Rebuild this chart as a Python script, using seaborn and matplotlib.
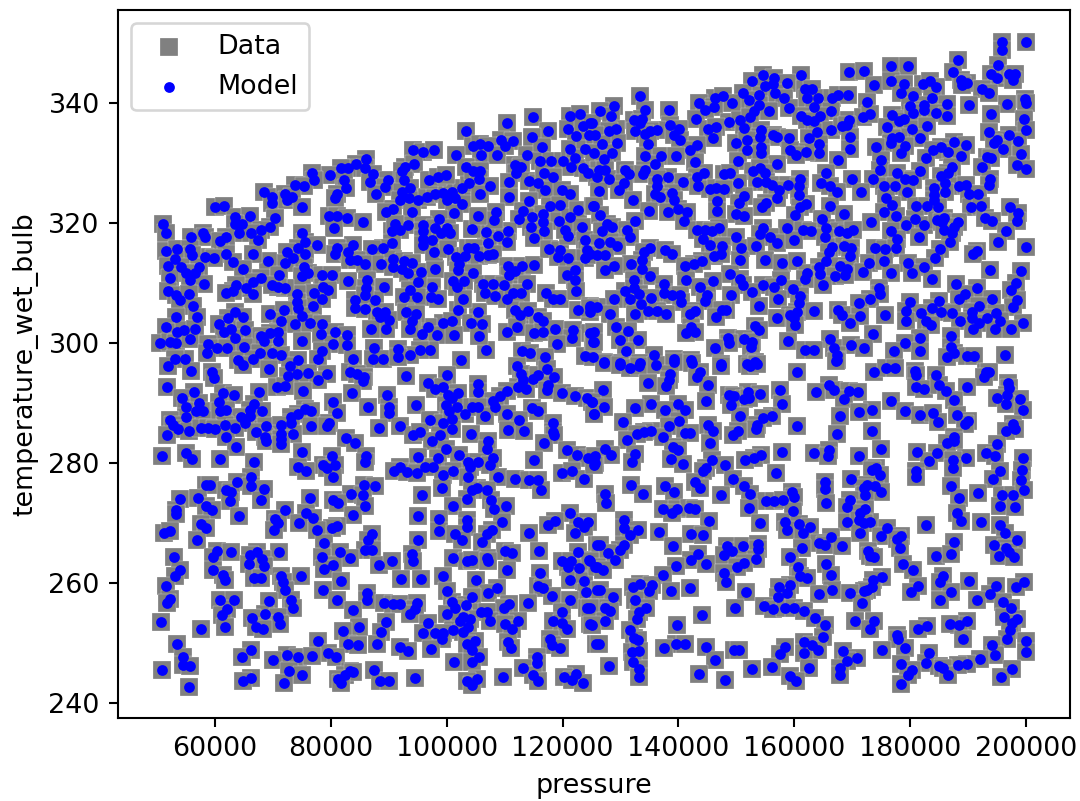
import pandas as pd
import matplotlib
matplotlib.use("Agg")
import matplotlib.pyplot as plt
import seaborn as sns

plt.rcParams['font.size'] = 10.3

# (pressure, temperature_wet_bulb), one list per region
upper_left = [
(114850,337.6),(110470,336.6),(103380,335.3),(117550,335.4),(114670,334.4),(121300,337.9),(123030,338.1),(120890,335.7),(122390,334.5),(123600,336.2),
(124750,336.6),(124580,334.6),(109320,333.8),(111500,333.7),(110070,332.8),(104600,332.8),(105750,333.1),(107190,332.9),(101600,331.3),(105870,331.3),
(108630,331.3),(113810,331.4),(116520,332.6),(116110,330.3),(118010,330.4),(120030,330.4),(121300,332.4),(123890,332.4),(122160,330.8),(121470,329.3),
(94110,332.2),(95900,331.8),(97850,332.2),(86050,330.7),(84260,329.9),(82990,329.1),(81730,329.1),(79830,328),(76660,328.3),(77060,327.1),
(73780,326.3),(75330,326.1),(68480,325.1),(69860,324.4),(69750,323.3),(72050,324.9),(72340,323.9),(73320,324.3),(74990,322.6),(59950,322.7),
(61570,322.9),(85870,329.1),(87310,328.1),(86740,326.8),(82190,327.1),(82650,325.8),(80980,324.9),(80690,324.2),(89900,327.2),(89330,326),
(87720,324.9),(92790,329.4),(94400,329.9),(92320,328.6),(92670,327.2),(93650,325.8),(92210,325.2),(91920,323.8),(93530,324.1),(95090,323.9),
(96530,324.4),(97970,324.9),(99410,325),(100850,325.1),(102580,325.8),(103850,326.7),(99990,323.8),(101430,324.1),(102580,323.1),(96930,327.2),
(98540,327.6),(99810,328),(103270,329.3),(104600,328.7),(105750,328.6),(105570,327.3),(107530,326.2),(105750,324.9),(111790,329.7),(112770,329.4),
(111960,328.3),(110760,326.9),(110810,324.4),(114210,327),(115710,326.7),(116860,328.3),(118300,327.7),(116980,325.5),(119860,325.5),(121300,324.8),
(123600,329.1),(124460,328.3),(114210,323.7),(113230,322),(112540,320.6),(114790,321),(114560,319.4),(117900,322.9),(119570,323),(116690,321.5),
(116570,320.1),(119400,320.4),(121300,321),(122740,322.2),(125330,322.9),(116800,318.6),(115080,317.5),(110640,318.6),(108910,317.8),(110350,316.9),
(106780,318.5),(107070,316.7),(104310,319),(108510,321.9),(108170,320.5),(105340,321.2),(101250,321.6),(98720,320.7),(94050,321.9),(90770,322.3),
(89500,321.9),(79650,321.2),(81040,321.1),(82710,320.8),(85530,320.1),(80460,319.1),(75050,318.4),(63410,321),(64680,319.9),(66000,321.2),
(63520,319.9),(64160,318.4),(70320,320.8),(69460,319.4),(68020,318.8),(66290,318.4),(67440,317.2),(51030,319.8),(51600,318.4),(55860,317.6),
(57940,318.4),(58340,317.7),(61970,317.7),(60820,317),(93360,319.7),(91920,318.8),(90480,318.6),(91060,319.9),(95840,319.7),(95840,318.6),
(95950,317.4),(97390,317.1),(95950,316.3),(97970,319.1),(99990,319.1),(99010,318.4),(100560,318.4),(90480,316.6),(89040,315.8),(87140,315.7),
(83860,316.4),(80980,315.9),(80690,314.9),(82990,315.2),(83280,313.9),(84430,313.8),(85870,313.1),(88580,313.1),(75510,316.8),(74240,315.8),
(72450,315.2),(77690,316.3),(75510,314.9),(73490,314.2),(72160,313.4),(69170,313.7),(66580,314.9),(61970,314.9),(63120,313.5),(58340,314.3),
(59780,314.1),(51490,315.4),(53390,315.7),(55630,315.7),(56040,314.7),(53040,314),(51890,312.8),(54190,312.7),(57240,312.6),(56500,311.6),
(55060,311.6),(52180,310.8),(55630,310.5),(58110,309.8),(64850,312.3),(67900,310.9),(66580,310.2),(71070,311.4),(75390,312.6),(76080,311.6),
(74930,311.1),(78500,311.3),(80110,311.3),(83000,310.3),(86160,310.5),(85990,309.1),(89160,309.4),(90770,314),(90650,312.7),(92610,313.6),
(93940,313.3),(92210,312.4),(93250,311.6),(95550,311.9),(97970,312.4),(97740,315.1),(100270,315.7),(101600,314.4),(103150,314.5),(103730,315.8),
(104710,315.9),(105570,314.5),(107190,314.7),(108050,314.9),(102120,313.2),(101890,312.2),(104590,311.7),(101140,310.3),(102980,310.4),(101710,309.4),
(110640,312.9),(112950,312.8),(115130,313),(110760,311.4),(111790,312),(113810,309.8),(106320,309.9),(108050,309.8),(109890,309.7),(106610,308.3),
(108340,307.9),(110350,307.4),(111500,308.4),(112770,308.3),(117730,315.6),(119570,315.5),(119270,314.4),(120890,314.2),(121010,317.9),(120430,318.8),
(123310,319.4),(123890,317.2),(124180,315.5),(123890,314.1),(122160,312.2),(120720,311.3),(122160,310.5),(117150,308.3),(118420,307.4),(119570,307.4),
(122270,308.7),(111790,305.5),(112650,304.7),(114100,305.3),(115710,304.4),(116690,303.6),(122740,305.5),(124750,306.2),(124750,305.1),(110470,301.8),
(112190,302.6),(115130,301.7),(116690,301.9),(118700,302.3),(121870,302.1),(124750,301.6),(121590,300.8),(125330,300.2),(118990,299.8),(113060,298.7),
(114390,298.4),(116980,297.7),(123890,297.9),(125330,297.7),(106840,298.8),(102460,297.2),(101890,305.5),(105460,305.2),(104190,303.3),(106030,303.1),
(105570,301.1),(99410,303.3),(100850,303.6),(96820,302.7),(95780,301.5),(98260,301.3),(101310,301.4),(102750,307.3),(97390,309.4),(97280,307.7),
(98540,307.3),(95090,310.1),(93650,308.8),(92610,307.6),(94800,307.6),(87600,307.2),(84150,307.2),(84150,305.9),(85870,305.7),(85870,308),
(87890,305.2),(89330,305.2),(88470,304.4),(90020,303.8),(92900,305.1),(94630,304.9),(93940,303.6),(93650,302.4),(89500,302.3),(86850,302.3),
(78670,309.4),(79540,308.8),(77060,308.3),(78390,307.3),(76950,306.2),(74070,308.2),(74180,306.9),(74350,305.8),(74930,304.5),(72050,309.1),
(70900,309.4),(69860,309.7),(69460,304.9),(71930,305.5),(71360,303.7),(73780,303.2),(76480,303.3),(78390,303.2),(78210,301.5),(80690,301.9),
(82710,301.4),(66580,308.2),(65430,309.1),(63700,309.7),(63120,308.7),(61970,308.3),(51890,308.6),(53330,308),(53900,307.2),(55460,308.1),
(56210,306.2),(53330,304.4),(56960,304.3),(51600,302.6),(53500,301.9),(54600,302.2),(56500,302.3),(63410,305.1),(62260,304.1),(64850,304.3),
(60700,303.2),(62830,302.4),(65140,302.1),(61570,301.9),(70900,301.9),(69460,301.6),(68020,301.2),(70900,300.4),(68420,300.4),(63410,300.8),
(65020,299.3),(50560,300),(52290,300.2),(53330,300),(55750,300.6),(58800,299.8),(60410,299.1),(62140,299.1),(58690,298.3),(67730,298.4),
(69750,298.3),(71470,298),(74990,300.3),(80400,299.8),(82710,299.7),(78500,298.7),(87430,299.1),(91520,299),(97110,298.9),(95380,298.9),
(93650,298),(87310,297.4),(89040,297.3),(91520,297.6),(83860,297.4),(77810,297.4),(54770,297.4),(53040,297.3),(63990,297.2),(66580,297.3),
(74350,297.2),
]

upper_right = [
(195900,350.2),(200000,350.2),(195850,348.8),(188180,347.2),(195200,346.3),(169530,345.2),(172000,345.4),(176780,346.2),(179550,346.2),(187440,345.1),
(193890,344.9),(194930,344.2),(197060,344.9),(198040,344.9),(197810,343.9),(188710,343.8),(189740,343.4),(189000,343),(161230,344.6),(154550,344.6),
(156450,344.2),(152650,343.6),(155010,342.8),(156340,343.2),(158700,343.4),(173730,343),(176780,343.7),(178910,343.1),(178340,341.6),(182200,343.1),
(183410,343.7),(184390,342.6),(192450,342.4),(193600,341.7),(161920,342.4),(163070,342.4),(162210,340.8),(164050,340.9),(156740,341.7),(158180,340.9),
(153970,341.3),(151150,341.6),(152130,340.5),(133290,341.2),(166530,340.9),(167510,341.3),(169290,341.3),(180530,341.1),(183690,340.8),(199820,340.6),
(200000,340),(146260,340.9),(147690,341.1),(143490,340),(149250,340),(172580,340.1),(180060,339.5),(182370,339.7),(186280,339.9),(190090,339.6),
(196650,339.9),(128800,339.5),(126500,338.7),(138420,338.9),(134160,338.9),(146080,339.4),(144640,338.8),(153860,339.6),(153000,338.6),(155590,338.7),
(159160,339.1),(163480,339.3),(166410,338.7),(182370,338.8),(184390,338.4),(186400,337.9),(193950,338.2),(128340,337.8),(132260,337.1),(133700,337.4),
(142970,337.3),(148680,336.9),(150690,337.2),(152420,337.6),(161170,337.9),(162210,337.1),(164510,337.8),(163480,337),(169410,337.1),(171880,337.7),
(173040,338.2),(176900,338),(178910,337.4),(178050,337),(180530,338.3),(199650,337.3),(125060,336.7),(138590,336.4),(133410,336.6),(140030,335.6),
(132430,335.3),(129260,335.6),(127940,335.3),(136290,335.5),(135140,335.3),(134270,334.8),(145040,335.6),(146540,336),(145910,334.1),(151260,335.9),
(154260,335.5),(154150,334.4),(156330,334.6),(157030,334.4),(159160,334.2),(163940,335.2),(162610,334.1),(166410,335.5),(168260,336.2),(169120,336.4),
(169580,334.3),(175980,336),(180240,335.7),(182830,336.2),(181620,334.1),(193600,335.1),(197060,334.7),(199940,335.5),(139170,334.7),(140210,333.8),
(125630,334.7),(129380,333.4),(126790,333.2),(134740,333.2),(143200,333),(142050,332.2),(149940,333.4),(151840,333.8),(178050,334.4),(176900,334.1),
(176780,333.3),(187550,333.5),(189570,333),(194930,333.9),(194470,333.4),(198610,333.6),(185250,332.7),(151840,332.2),(154260,332.6),(154260,331.6),
(164220,333.1),(164340,331.7),(162100,331.9),(159330,332.2),(160370,331.3),(169580,332.4),(174130,332.7),(179030,332.8),(178340,331.7),(186520,331.8),
(183980,332.1),(182660,330.9),(188710,331.2),(196080,332.4),(199070,331.5),(193200,331),(193890,330.8),(128510,331.6),(125350,331.7),(127070,330.7),
(134160,331.2),(136980,331.2),(136000,329.8),(139630,331.2),(142860,330.2),(150290,330.4),(157080,329.9),(167510,330.5),(174940,330.5),(192330,329.4),
(198500,329.7),(200000,329),(174770,328.8),(181790,328.6),(187270,329.4),(186520,328.4),(185250,327.9),(177760,328.3),(179200,327.4),(180530,327.1),
(126210,328.8),(127360,328.9),(125920,327.7),(127940,327.3),(130820,328.9),(131390,328.2),(134270,328.9),(133870,328.2),(138190,327.7),(136290,327.3),
(144350,328.3),(143200,327.7),(147810,328.2),(148960,328.3),(152880,328.7),(154150,329.1),(155010,328.3),(153570,326.9),(160940,327.4),(165550,328.3),
(164690,326.7),(169990,327.4),(173610,327.4),(193720,327.4),(193600,326.3),(186000,326.7),(188420,326.1),(189570,326.4),(184100,325.8),(130530,326.7),
(140720,326.9),(143320,326.2),(150290,326.6),(155180,326.9),(156160,326.3),(158930,326.3),(160770,326.1),(166240,326.1),(175570,326.2),(177470,326.2),
(136290,326.1),(129660,325.5),(126210,325.3),(145510,325.6),(146540,325.9),(147810,325.7),(138880,325),(136000,324.8),(136870,324.4),(157310,325.5),
(160770,324.6),(167390,325.1),(171600,325.2),(179490,325.2),(184100,324.7),(186000,325.2),(190140,324.8),(191700,324.9),(151260,324.5),(157030,324.1),
(132080,323.9),(139170,323.8),(146660,323.7),(150400,323.4),(175920,324.1),(176900,323),(184100,323.8),(125350,322.8),(139860,322.4),(138190,321.9),
(134850,322),(146660,322),(155130,323.4),(154490,322.6),(162090,323.2),(160940,322.7),(166240,322.9),(180930,322.8),(182950,322.8),(184850,322.7),
(190430,322.7),(192280,322.8),(197170,322.7),(141470,321.9),(126380,321.4),(149940,321.5),(151380,321.2),(160190,321.3),(168660,321.5),(175460,321.8),
(177590,321.1),(198670,321.7),(132430,320.4),(140900,320.4),(164800,320.7),(173210,320.2),(180760,320.6),(179370,319.6),(182370,319.6),(184680,320.5),
(185820,320.8),(188250,320.2),(192910,320.9),(194180,320.4),(198380,320.4),(127650,319.9),(128510,319.3),(126790,318.6),(131100,318.9),(143200,318.8),
(144640,318.8),(146950,319.2),(145790,318.6),(154610,319.1),(154150,318.2),(158750,319.1),(161460,318.8),(162900,318.7),(165550,319.1),(167680,318.6),
(169120,318.4),(170160,318.8),(176730,318.6),(185540,320.2),(185820,318.8),(187550,319.4),(187150,318.4),(196540,318.7),(131570,317.6),(149940,317.7),
(144240,317.3),(155870,317.7),(157030,316.7),(159910,317.2),(165380,317.6),(177650,317.3),(181510,317.7),(186860,316.9),(195160,316.9),(126210,316.6),
(128230,316.8),(129380,316.2),(145510,316.4),(147520,316.2),(135140,315.9),(137730,315.5),(138880,314.9),(150810,315.9),(153330,316.2),(166530,316),
(168550,316.2),(169810,315.9),(173850,315.8),(175740,315.7),(177590,315.8),(185190,315.7),(200000,316),(191590,315.4),(190890,314.8),(124770,314.8),
(125920,314.6),(127360,314.6),(133990,315.2),(133700,313.8),(165950,315.2),(169700,314.5),(146080,314.5),(147350,314.8),(144070,313.6),(142630,313.1),
(141190,312.9),(150690,313.9),(155010,313.9),(157890,313.4),(160480,313.7),(165550,313.6),(172870,313.4),(175570,313.7),(179600,313.4),(184210,314.1),
(182370,312.6),(131800,313.2),(128920,312.9),(127360,312.2),(133700,312.3),(164230,312.7),(167970,312.9),(169120,312.4),(193720,312.2),(199070,312),
(171880,311.9),(176780,311.6),(180350,311.7),(148960,311.5),(162210,311.6),(164400,311.5),(167100,311.2),(168830,311.3),(135020,311.1),(150690,310.6),
(141300,310.5),(145910,310.3),(157720,310.5),(161810,310.7),(132260,310.5),(183690,310.7),(187850,309.8),(198210,310),(151150,309.7),(154550,309.7),
(137560,309.8),(164970,309.6),(191470,309.2),(197460,308.8),(130820,308.7),(132260,309.1),(143780,309.3),(156450,309.3),(159790,309),(174590,309.1),
(152650,308.5),(137440,308.4),(133120,308.1),(138880,308),(140320,308),(144930,308),(149130,308),(174770,308.1),(189390,308.1),(131570,307.4),
(135310,307.5),(128800,307.3),(173040,307.4),(194180,307.3),(188420,307.3),(161060,307.8),(157140,307.3),(144640,307),(140440,306.8),(179950,306.9),
(184960,307),(198380,307.1),(160770,306.6),(171140,306.7),(133520,306.5),(191870,306.2),(153860,306.2),(197810,306),(125920,306),(124770,305.8),
(183810,305.9),(148270,305.5),(134740,305.3),(136290,305.3),(142800,305.3),(147520,305.5),(160480,305.2),(163360,305.4),(167510,305.5),(179370,305.3),
(185250,305.1),(181910,305),(187150,305),(190720,305.1),(194750,305),(128230,304.8),(132430,304.9),(137900,304.8),(142050,304.8),(168260,304.6),
(171300,304.5),(175740,304.6),(146540,304.4),(159330,304.7),(157030,304.2),(159910,304.1),(190720,304.1),(193320,304.1),(195500,303.6),(179370,303.7),
(188590,303.7),(182660,303.6),(199540,303.3),(169580,303.4),(191870,303.3),(183520,303),(160190,303),(153170,302.9),(129200,302.7),(142220,302.7),
(190890,302.3),(194640,302.3),(197350,302.4),(142910,301.9),(131280,302),(125350,301.9),(153860,302.2),(141300,301.6),(173560,301.5),(186990,301.2),
(148500,300.9),(151260,300.6),(181620,300.9),(166130,300.6),(129840,300.5),(133000,300.5),(125350,300.2),(158930,300.3),(152700,300.2),(148670,300),
(179090,300),(166820,299.1),(169810,299.7),(146260,299.2),(152530,299.3),(172000,299.1),(161920,298.8),(163360,298.8),(130880,298.7),(177300,298.7),
(181620,298.6),(186990,299.3),(187550,298.4),(196370,298),(189860,297.9),(191010,297.9),(186280,297.6),(167390,298),(167390,297.2),(135710,298),
(139280,297.3),(142220,297.2),(127070,296.9),(129840,296.6),(133300,296.6),(147410,296.5),(153280,296.9),(151840,296.5),
]

lower_left = [
(51890,296.1),(55920,295.3),(59550,295.2),(59780,294.1),(64850,296.3),(69340,295.6),(72910,296.2),(72630,294.5),(74070,294.8),(76080,295),
(79360,294.8),(77810,293.8),(83280,295.2),(84430,294.8),(85760,294.4),(85470,293.6),(92960,294.5),(99990,294.7),(96820,293.4),(97970,292.3),
(99410,292.6),(51770,292.6),(56380,291.8),(61390,291.7),(63240,291.3),(67670,291.9),(70780,292.6),(72050,292.9),(75220,292),(83570,291.6),
(89730,291.4),(100270,291.3),(102000,291.6),(100850,290.8),(105460,293.1),(105340,291.8),(112080,296.1),(112830,294.9),(113230,293.8),(114960,294),
(115830,294.7),(117270,295.6),(118530,294.4),(117550,293),(117270,292.1),(112370,292.7),(113640,292.3),(110470,292),(109200,291.1),(108050,290.4),
(108340,289.4),(119860,291.7),(122160,291.1),(124180,290.8),(125040,290.1),(54250,290.8),(55060,289.3),(57240,290),(56790,288.7),(57940,288.6),
(60650,290.1),(60820,288.7),(61970,288.9),(66690,289.9),(66120,288.8),(66000,287.9),(68130,288.6),(80290,290.1),(80980,288.4),(86330,289.4),
(89960,289.4),(90020,288.3),(94630,289.6),(99810,289.7),(101710,289.3),(100390,288.6),(103150,288.1),(104310,289.4),(105340,289.3),(106610,287.9),
(110350,288.1),(114670,289.1),(115710,288.7),(125450,288.1),(75510,289),(76490,288.7),(74350,288.2),(73090,287.7),(73200,286.7),(54940,287.6),
(52180,287.1),(52750,286.3),(53620,285.7),(64560,287.7),(65250,286.6),(97110,287.2),(99290,286.6),(100850,287.3),(100850,285.7),(112540,287.2),
(118420,286.7),(61800,286.3),(63410,285.9),(68770,286.2),(71470,286.3),(76490,286.2),(79650,286.6),(79250,286.1),(88350,285.9),(91860,286.2),
(55460,285.4),(57650,285.9),(58800,285.8),(60070,285.7),(67040,285.1),(71360,284.8),(73490,284.8),(110530,285.5),(113290,285.3),(118420,285.2),
(118530,284.7),(51770,284.6),(61850,284.4),(68590,284.4),(68880,283.7),(71360,284),(71470,283.1),(82590,284.2),(84150,283.3),(94110,284.7),
(95380,285.1),(98830,284.7),(97390,283.6),(104190,284.8),(107190,283.6),(63580,282.6),(99870,282.4),(106890,282.3),(116860,283.3),(50850,281.1),
(54940,281.7),(56040,280.6),(60820,280.6),(75050,281.9),(80110,281.1),(85990,281.1),(85870,280.1),(94970,281),(98430,280.9),(102120,281.3),
(108050,280.9),(115130,280.5),(120840,282.1),(122450,281.4),(124460,280.8),(125620,280),(66750,280.2),(103730,280.2),(105460,280.1),(104020,279.3),
(107470,279.6),(78670,279.6),(80690,279.7),(79250,279.1),(91920,279.3),(96240,279.4),(97680,279.4),(74410,279.4),(75680,278.7),(90940,278.6),
(93070,278.5),(94800,278.4),(101020,278.7),(99290,278),(103670,277.7),(80400,277.6),(108800,277.6),(111790,277.4),(114270,277.2),(115710,277.2),
(119980,278.4),(121700,278.6),(66290,277.7),(63870,276.9),(58510,276.3),(59090,276.3),(66290,276.2),(123770,277.4),(85700,276.3),(87600,276.1),
(99240,275.9),(105170,275.8),(104310,275.5),(106900,275.5),(68480,275.7),(61970,275.5),(62830,275.1),(116290,275.5),(83400,274.9),(85470,274.7),
(95780,274.7),(53900,274),(57070,274.2),(76430,274.1),(80290,273.8),(81270,273.3),(103560,274),(107590,273.8),(68020,273.8),(62550,273.6),
(58400,272.9),(59550,272.1),(101140,272.8),(85820,272.9),(108170,272.3),(110240,272.9),(53330,272.2),(53210,271.5),(72160,272.1),(121300,271.6),
(83860,271.4),(95090,271.2),(75790,271.6),(76950,270.9),(70320,270.6),(64100,271.2),(74530,270),(98720,270.7),(103560,270.5),(103440,269.3),
(109490,270.1),(118700,270.3),(117550,269.6),(122740,270.1),(124350,270.1),(123770,269.4),(57530,269.9),(58400,269.1),(70900,270),(70150,268.8),
(80980,269.5),(80110,269.1),(77640,268.8),(51140,268.3),(52180,268.6),(98660,268.6),(107760,268.8),(106900,268.2),(101430,268.2),(114270,268.4),
(122160,268.3),(87140,268.2),(86450,267.2),(56960,267.1),(78850,266.7),(95030,267.2),(102580,267.1),(106030,266.8),(126020,266.4),(85870,265.5),
(87140,265.5),(110120,265.3),(111220,265),(115940,265.4),(122740,265.1),(60410,265.4),(62780,265.2),(67320,265.2),(70960,265.2),(81610,265.1),
(59670,264.4),(52930,264.4),(66120,264.6),(68130,264),(93940,264.8),(94230,263.7),(101020,264.2),(107010,264.2),(103440,263.7),(104420,263.8),
(78440,264.4),(83280,264.2),(107190,263.7),(124580,263.9),(119860,263.7),(121470,263.6),(65830,263.2),(68480,262.8),(80290,263),(88350,263),
(90480,263.6),(121010,262.6),(122850,262.5),(125620,262.7),(53900,262.2),(59670,262.2),(78850,262.3),(110410,262.1),(61390,261.4),(53040,261.1),
(61680,260.5),(66750,260.9),(67900,260.9),(71360,261.1),(74810,261.1),(92090,260.7),(95610,260.6),(99410,261.1),(116170,261.6),(105060,260.5),
(121360,260.5),(123720,260.4),(71760,260.1),(81670,260.3),(51540,259.5),(115710,259.5),(116570,259.1),(72050,258.8),(78620,258.8),(108630,259.1),
(107190,258.4),(100100,258.6),(124060,258.5),(126020,258.8),(86280,258.3),(86280,257.2),(118130,257.9),(104310,257.7),(100850,256.9),(52180,257.3),
(51720,256.7),(60930,257.2),(63350,257.2),(69340,257),(73200,257.2),(73490,255.9),(80980,257.2),(89210,256.7),(90770,256.5),(91920,256.5),
(94920,256.6),(103380,256.4),(110760,256.5),(109950,255.8),(114100,256.6),(121360,257.1),(124180,255.9),(62030,255.7),(61220,254.6),(68700,254.8),
(83860,255.5),(94510,255.7),(93650,254.8),(101430,255.8),(100100,254.9),(105860,255.2),(107010,255.1),(119980,255.2),(66410,254.2),(70900,254.3),
(96700,253.4),(102870,254.4),(104020,254),(102290,253.6),(107530,253.7),(118420,253.7),(112260,253.7),(50620,253.5),(71190,253.2),(89450,253.5),
(110070,253.2),(119860,253.3),(124750,253.2),(67150,252.7),(68310,252.4),(57590,252.4),(61800,252.7),(84840,252.6),(103730,252.7),(111220,252.3),
(120840,252.4),(82010,252),(88640,251.9),(101140,252.2),(102870,251.9),(97970,251.6),(99410,251.6),(95890,251.6),(99120,250.7),(117840,250.7),
(77810,250.3),(53440,249.9),(83000,249.9),(84720,249.7),(87890,249.8),(104880,250.3),(103440,249.8),(110530,250.1),(118130,249.7),(125790,249.8),
(91920,249.4),(104420,248.9),(111100,249.1),(119570,249.1),(66170,248.9),(97280,249),(93360,248.6),(79540,248.3),(64730,247.6),(72340,248),
(74350,247.6),(76660,247.9),(80860,247.6),(54480,247.7),(105570,247.7),(115650,247.6),(70090,247.2),(101310,246.8),(104310,246.9),(115650,246.6),
(54480,246.3),(55750,246.2),(113230,245.9),(50850,245.5),(72800,245.3),(87490,245.5),(83280,245.3),(82420,244.7),(83860,245.1),(75050,244.7),
(122280,244.9),(114960,244.7),(66170,244.2),(64850,243.7),(81150,244),(94510,244.2),(109780,244.3),(120260,244.3),(121590,243.9),(115830,243.7),
(105170,244),(88470,243.7),(90020,243.6),(103560,243.6),(71930,243.4),(81670,243.3),(123600,243.4),(104420,243),(55460,242.7),
]

lower_right = [
(127070,296.6),(129840,296.3),(131680,295.8),(133240,296.1),(136120,296.3),(139170,296.9),(142340,296.6),(147410,296.2),(152420,296.1),(153570,296.5),
(160480,295.1),(167280,297),(173730,295.1),(175920,295.9),(177470,295.9),(180810,295.4),(180930,294.6),(184500,294.7),(193030,295.2),(193600,295.1),
(192740,294.4),(138590,294.9),(138310,293.8),(137900,292.8),(134680,293.3),(143780,295.2),(143200,294.3),(145040,293),(196940,293.4),(197060,292.5),
(165950,293),(166820,292.2),(163820,291.8),(169410,292),(170970,291.8),(126960,292.1),(181100,292.7),(182370,292.3),(184960,293),(186220,292),
(189740,292.6),(151960,291.9),(148670,291.4),(149540,291.2),(154150,291.5),(157600,292.2),(151260,290.7),(152130,290.9),(168550,290.7),(196770,291.3),
(194930,290.8),(176780,290.3),(187550,290.5),(198950,290.6),(144760,290.4),(125060,290.1),(139860,289.8),(135250,289.8),(149130,289.7),(157830,289.8),
(196540,289.8),(132550,289.1),(127190,289.3),(137730,288.9),(141070,288.9),(173440,288.9),(171250,288.5),(179200,288.6),(199480,288.9),(125460,288.2),
(150570,287.8),(167850,287.9),(181790,288),(183930,288.3),(188010,288),(184840,286.8),(156160,287.8),(154550,287.5),(130410,286.9),(140030,287),
(190000,287),(189400,286.5),(145040,286.3),(138420,286.2),(153570,286.3),(153400,285.7),(160540,286.1),(197750,286.5),(198040,285.7),(145960,285.4),
(135310,285.3),(133980,285.1),(132830,284.8),(141190,285),(141930,285),(150230,285.4),(149420,284.7),(167390,284.8),(173380,285.3),(196480,285.3),
(137270,284.4),(131110,283.9),(187550,284.4),(187550,283.6),(186400,283.4),(145390,283.3),(195040,283.1),(139050,282.6),(139860,282.2),(127360,282.3),
(157890,281.9),(163360,281.6),(165950,282.1),(165780,281.2),(174990,282.3),(181220,281.8),(184670,281.6),(193030,281.6),(194640,281.2),(132550,281.5),
(128340,281.4),(125630,281.2),(154260,281.4),(153110,280.8),(151560,280.5),(171250,281.1),(189570,280.9),(199430,280.9),(138710,280.7),(131970,280.2),
(125460,279.7),(183290,280.4),(187380,280.5),(187450,279.1),(145790,280.5),(147980,279.7),(140780,279.8),(144810,279.1),(144240,278.7),(174130,279.1),
(174880,278),(173440,278.8),(199250,278.8),(180930,278.6),(181040,277.6),(156910,278.3),(149370,277.4),(195440,278.6),(194290,277.4),(199060,277.1),
(169870,277.3),(165260,276.8),(165380,275.7),(142800,276.8),(143780,275.9),(131800,276.3),(137610,276.2),(139170,275.1),(151260,276.2),(174020,276.2),
(172580,276.3),(172000,275.8),(187100,276.1),(133870,274.8),(127300,274.8),(152420,274.9),(159620,275.1),(160020,274.3),(147290,274.7),(174990,275.1),
(172290,274.7),(169700,273.8),(191760,275),(195850,274.7),(197810,274.7),(199650,275.5),(188420,274.2),(155180,273.7),(156450,273.7),(158010,273.9),
(127530,273.3),(165550,273.3),(169120,272.6),(195500,272.9),(198100,272.6),(152240,272.5),(137330,272.3),(139750,272.3),(141760,272.5),(142910,272.3),
(172290,272.3),(159790,272),(138880,271.6),(171310,271.6),(188130,271.6),(145220,270.4),(130650,270.5),(169120,270.2),(171140,270.5),(173040,270.1),
(172000,270),(158350,270.2),(154150,270),(182660,269.7),(188700,270.3),(192280,270.1),(160770,269.8),(162790,269.4),(130530,269.2),(176030,269.2),
(195500,269.6),(133010,268.8),(136580,268.5),(158750,268.8),(196310,268.3),(131570,268),(142170,268.2),(144240,268),(161460,268.3),(171430,268.3),
(166410,267.6),(175000,267.8),(178450,267.9),(177650,267.3),(126380,266.4),(130530,266.4),(129950,265.5),(164230,266.6),(165260,266.4),(168260,266.2),
(187550,266.8),(198500,267.2),(194470,266.4),(139050,266.2),(148380,266.2),(149250,265.4),(147810,264.7),(151090,266.2),(153690,266.5),(153690,265.7),
(161350,265.9),(178220,265.9),(172690,265.4),(173150,264.5),(173840,264.4),(127820,265),(196480,265.8),(197060,265.2),(195330,264.5),(197920,264.3),
(143320,264.9),(184390,264.5),(187100,264.8),(159330,264.3),(129090,263.8),(142220,263.8),(153450,264),(124770,263.6),(125920,262.7),(165550,263.2),
(178800,263.2),(139520,262.9),(144760,263.1),(151260,263.4),(150110,262.6),(160590,262.7),(126960,262.2),(180580,262.2),(147930,261.6),(166360,261.3),
(137270,261.4),(161060,261.1),(162210,260.8),(148210,260.2),(175060,261),(173610,260.5),(185710,261.1),(185130,260.1),(190090,260.3),(133410,259.9),
(132080,259.3),(135430,259.7),(134850,258.6),(141930,259.1),(138710,258.7),(159330,259.7),(157430,259.3),(181330,259.5),(199650,260.2),(198210,259.4),
(194870,259.5),(173440,259.4),(172580,258.8),(172000,258.6),(126380,258.8),(166530,258.8),(151730,258.5),(158750,258.3),(164280,258.2),(169580,258.3),
(180180,258.5),(187100,258.5),(193780,258.2),(157200,257.6),(128690,257.7),(191590,257.2),(132430,257.1),(185080,257.2),(171710,256.7),(196080,256.8),
(154720,256.2),(156280,255.6),(158470,255.9),(160020,255.9),(161750,255.3),(149710,255.9),(134390,255.9),(133120,255.1),(127360,255.9),(128230,255.3),
(197450,255.9),(124770,255.8),(144070,254.7),(163650,254.1),(132830,254),(196190,254.3),(198380,254),(170450,253.6),(173840,253.6),(127360,253.6),
(139750,253),(165260,253),(197630,253.3),(189860,253.6),(188420,253),(186800,253.1),(182950,252.8),(181390,252.3),(173040,252.3),(125060,253),
(131570,252.1),(197230,252.2),(132260,250.8),(133010,250.5),(164920,251),(177760,251.3),(177880,250.7),(189110,250.6),(196770,250.7),(200000,250.3),
(126320,249.8),(161630,250.1),(163070,249.7),(139630,249.8),(141070,249.8),(158470,249.4),(194060,249.6),(137560,249.2),(144700,249.3),(179090,249.1),
(164050,248.9),(149540,248.8),(150520,248.9),(175170,248.8),(131970,248.5),(133120,248.7),(161630,248.3),(157600,248.2),(168490,248.6),(183230,248.3),
(200000,248.5),(194640,248),(192050,247.3),(170850,247.5),(169120,247),(146260,247.2),(132080,246.8),(182770,246.7),(189860,246.5),(188300,246.4),
(184960,246.2),(178340,246.5),(128050,246.2),(156160,246),(162500,245.9),(167970,245.8),(133120,245.7),(152710,245.6),(185650,245.8),(197630,245.6),
(180350,245.5),(143490,244.9),(179600,244.7),(186570,244.7),(167970,244.6),(159210,244.5),(133120,244.3),(195680,244.4),(148100,243.9),(160310,243.6),
(178450,243.1),
]

df = pd.DataFrame(upper_left + upper_right + lower_left + lower_right,
                  columns=["pressure", "temperature_wet_bulb"])

fig, ax = plt.subplots(figsize=(1080 / 188, 801 / 188), dpi=188)
fig.subplots_adjust(left=118 / 1080, right=1070 / 1080, top=1 - 10 / 801, bottom=1 - 718 / 801)

sns.scatterplot(data=df, x="pressure", y="temperature_wet_bulb", marker="s", s=50,
                color="grey", linewidth=0.1, label="Data", ax=ax)
sns.scatterplot(data=df, x="pressure", y="temperature_wet_bulb", s=17,
                color="blue", linewidth=0, label="Model", ax=ax)

ax.set_xlim(43250, 207600)
ax.set_ylim(237.5, 355.5)
ax.legend(loc="upper left")

plt.savefig("out.png", dpi=188)
